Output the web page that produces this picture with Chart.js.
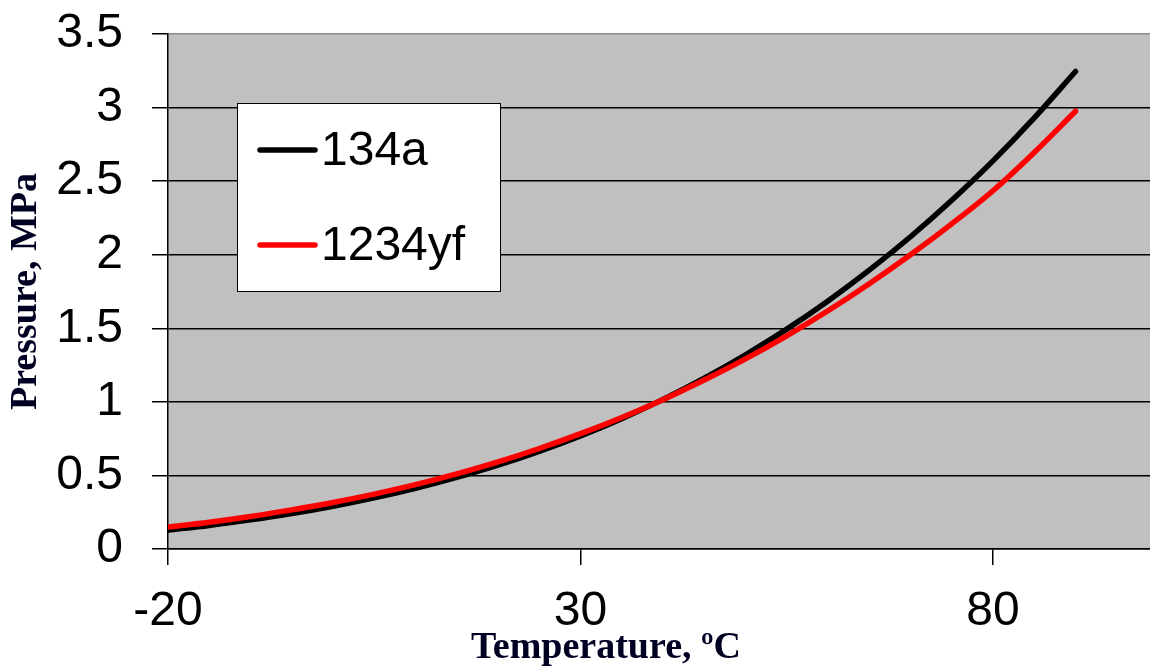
<!DOCTYPE html>
<html>
<head>
<meta charset="utf-8">
<script src="https://cdn.jsdelivr.net/npm/chart.js@4.4.1/dist/chart.umd.min.js"></script>
<style>
html,body{margin:0;padding:0;background:#fff;overflow:hidden;}
#wrap{width:1150px;height:666px;}
</style>
</head>
<body>
<div id="wrap"><canvas id="c" width="1150" height="666"></canvas></div>
<script>
// ---- data ----
const temperatures = [-20,-15,-10,-5,0,5,10,15,20,25,30,35,40,45,50,55,60,65,70,75,80,85,90];
const p134a   = [0.128,0.160,0.198,0.241,0.291,0.348,0.413,0.487,0.570,0.664,0.769,0.886,1.017,1.161,1.320,1.494,1.686,1.895,2.122,2.370,2.638,2.930,3.245];
const p1234yf = [0.150,0.182,0.221,0.266,0.316,0.373,0.437,0.510,0.592,0.683,0.784,0.894,1.015,1.148,1.292,1.449,1.619,1.803,2.000,2.210,2.435,2.695,2.975];
const seriesNames = ['134a','1234yf'];
const xTickValues = [-20,30,80];
const yTickValues = [0,0.5,1,1.5,2,2.5,3,3.5];
const xTitle = 'Temperature, ºC';
const yTitle = 'Pressure, MPa';

const toPts = (ys) => temperatures.map((t,i)=>({x:t,y:ys[i]}));

const bgPlugin = {
  id:'bg',
  beforeDraw(chart){
    const {ctx, chartArea:a} = chart;
    ctx.save();
    ctx.fillStyle='#c0c0c0';
    ctx.fillRect(a.left,a.top,a.right-a.left,a.bottom-a.top);
    ctx.restore();
  }
};

const legendPlugin = {
  id:'boxLegend',
  afterDatasetsDraw(chart){
    const {ctx, chartArea:a} = chart;
    const L=a.left+69, T=a.top+69, W=263, H=188;
    ctx.save();
    ctx.fillStyle='#fff';
    ctx.fillRect(L,T,W,H);
    ctx.strokeStyle='#000';
    ctx.lineWidth=1;
    ctx.strokeRect(L+0.5,T+0.5,W,H);
    const rows=[47,142];
    chart.data.datasets.slice().sort((p,q)=>p.legendIndex-q.legendIndex).forEach((ds,i)=>{
      const y=T+rows[i];
      ctx.strokeStyle=ds.borderColor;
      ctx.lineWidth=5.5;
      ctx.lineCap='round';
      ctx.beginPath();ctx.moveTo(L+23,y);ctx.lineTo(L+78,y);ctx.stroke();
      ctx.fillStyle='#000';
      ctx.font='48px "Liberation Sans", Arial, sans-serif';
      ctx.textBaseline='middle';
      ctx.textAlign='left';
      ctx.fillText(ds.label,L+84,y+2);
    });
    ctx.restore();
  }
};

const xTitlePlugin = {
  id:'xTitle',
  afterDraw(chart){
    const {ctx} = chart;
    ctx.save();
    ctx.fillStyle='#000022';
    ctx.font='bold 38px "Liberation Serif", "Times New Roman", serif';
    ctx.textAlign='center';
    ctx.textBaseline='alphabetic';
    ctx.fillText(xTitle, 606, 658);
    ctx.restore();
  }
};

new Chart(document.getElementById('c'), {
  type:'line',
  data:{
    datasets:[
      {label:seriesNames[0], data:toPts(p134a), borderColor:'#000000', borderWidth:5.5, pointRadius:0, cubicInterpolationMode:'monotone', borderCapStyle:'round', order:1, legendIndex:0, fill:false},
      {label:seriesNames[1], data:toPts(p1234yf), borderColor:'#ff0000', borderWidth:5.5, pointRadius:0, cubicInterpolationMode:'monotone', borderCapStyle:'round', order:0, legendIndex:1, fill:false}
    ]
  },
  options:{
    responsive:false,
    animation:false,
    layout:{padding:{top:34,right:0,left:0,bottom:0}},
    plugins:{legend:{display:false}, tooltip:{enabled:false}},
    scales:{
      x:{
        type:'linear', min:-20, max:99.03,
        afterBuildTicks(s){ s.ticks = xTickValues.map(v=>({value:v})); },
        afterFit(s){ s.height = 117; s.paddingLeft = 0; s.paddingRight = 0; },
        grid:{drawOnChartArea:false, drawTicks:true, tickLength:16, tickColor:'#000', color:'#000', lineWidth:1.5},
        border:{display:true, color:'#000', width:1.5},
        ticks:{color:'#000', padding:18, maxRotation:0, font:{family:'"Liberation Sans", Arial, sans-serif', size:48, lineHeight:1.2}}
      },
      y:{
        type:'linear', min:0, max:3.5,
        afterBuildTicks(s){ s.ticks = yTickValues.map(v=>({value:v})); },
        afterFit(s){ s.width = 168; s.paddingTop = 0; s.paddingBottom = 0; },
        grid:{drawTicks:true, tickLength:16, tickColor:'#000', lineWidth:1.5,
              color:(c)=> (c.tick && c.tick.value===3.5) ? '#8c8c8c' : '#000'},
        border:{display:true, color:'#000', width:1.5},
        title:{display:true, text:yTitle, color:'#000022', padding:{top:3,bottom:0},
               font:{family:'"Liberation Serif", "Times New Roman", serif', size:38, weight:'bold', lineHeight:1.2}},
        ticks:{color:'#000', padding:29, font:{family:'"Liberation Sans", Arial, sans-serif', size:48, lineHeight:1.2},
               callback:(v)=>String(v)}
      }
    }
  },
  plugins:[bgPlugin, legendPlugin, xTitlePlugin]
});
</script>
</body>
</html>
